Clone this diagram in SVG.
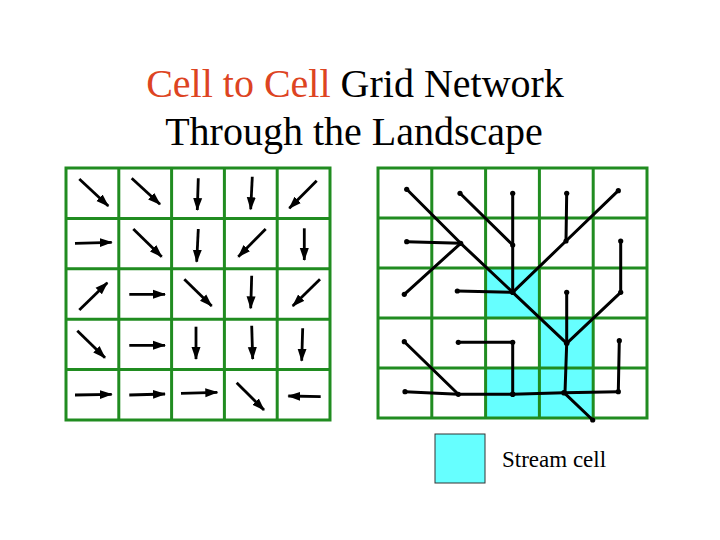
<svg xmlns="http://www.w3.org/2000/svg" width="720" height="540" viewBox="0 0 720 540">
<style>
.title{font-family:"Liberation Serif","Times New Roman",serif;font-size:40px;fill:#000}
.red{fill:#dd4422}
.grid{stroke:#208c20;stroke-width:3;fill:none;stroke-linecap:square}
.arrow{stroke:#000;stroke-width:2.8;fill:none;marker-end:url(#ah)}
.edge{stroke:#000;stroke-width:3;fill:none;stroke-linecap:round}
.dot{fill:#000}
.stream{fill:#66ffff}
.legend-text{font-family:"Liberation Serif","Times New Roman",serif;font-size:23px;fill:#000}
</style>
<defs>
<marker id="ah" markerWidth="14" markerHeight="10" refX="12" refY="5" orient="auto" markerUnits="userSpaceOnUse">
<path d="M0,0.5 L13,5 L0,9.5 z" fill="#000"/>
</marker>
</defs>
<rect width="720" height="540" fill="#fff"/>

<g id="title">
<text class="title" x="355" y="97" text-anchor="middle"><tspan class="red">Cell to Cell</tspan> Grid Network</text>
<text class="title" x="354" y="145" text-anchor="middle">Through the Landscape</text>
</g>

<g id="flow-direction-grid">
<rect x="66" y="168" width="264" height="252" fill="#fff"/>
<path class="grid" d="M66,168 V420 M118.8,168 V420 M171.6,168 V420 M224.4,168 V420 M277.2,168 V420 M330,168 V420 M66,168 H330 M66,218.4 H330 M66,268.8 H330 M66,319.2 H330 M66,369.6 H330 M66,420 H330"/>
<g id="flow-arrows">
<line class="arrow" x1="79.3" y1="179" x2="108.3" y2="206"/>
<line class="arrow" x1="131.7" y1="178.3" x2="160" y2="204.3"/>
<line class="arrow" x1="198.3" y1="178.3" x2="197.3" y2="210"/>
<line class="arrow" x1="252.3" y1="176.7" x2="250.7" y2="209.3"/>
<line class="arrow" x1="316.7" y1="180.7" x2="289.3" y2="208.3"/>

<line class="arrow" x1="75" y1="243.3" x2="111.7" y2="242.3"/>
<line class="arrow" x1="133.3" y1="229" x2="161.7" y2="256.7"/>
<line class="arrow" x1="198.3" y1="229" x2="196.7" y2="261.7"/>
<line class="arrow" x1="265.7" y1="229" x2="238.3" y2="256.7"/>
<line class="arrow" x1="304.3" y1="228.3" x2="304.3" y2="260"/>

<line class="arrow" x1="79.3" y1="310" x2="107.3" y2="282.7"/>
<line class="arrow" x1="129.3" y1="294.3" x2="165" y2="294.3"/>
<line class="arrow" x1="184.3" y1="279.3" x2="211.7" y2="306"/>
<line class="arrow" x1="251.7" y1="275.7" x2="250.7" y2="308.3"/>
<line class="arrow" x1="320" y1="279.3" x2="292.7" y2="306"/>

<line class="arrow" x1="77.3" y1="330.7" x2="105" y2="357.7"/>
<line class="arrow" x1="129.3" y1="345.3" x2="165" y2="345.3"/>
<line class="arrow" x1="196" y1="326.7" x2="196" y2="359"/>
<line class="arrow" x1="251.7" y1="325.7" x2="252.7" y2="359"/>
<line class="arrow" x1="302.7" y1="328.3" x2="301.7" y2="360.7"/>

<line class="arrow" x1="75" y1="395" x2="111.7" y2="394.3"/>
<line class="arrow" x1="129.3" y1="395" x2="165" y2="394"/>
<line class="arrow" x1="181" y1="393.3" x2="217.3" y2="392.3"/>
<line class="arrow" x1="236.7" y1="382.7" x2="264" y2="410"/>
<line class="arrow" x1="320.7" y1="396.7" x2="288.3" y2="396"/>
</g>
</g>

<g id="network-grid">
<rect x="378" y="168" width="269" height="250" fill="#fff"/>
<rect class="stream" x="485.6" y="268" width="53.8" height="50"/>
<rect class="stream" x="539.4" y="318" width="53.8" height="50"/>
<rect class="stream" x="485.6" y="368" width="53.8" height="50"/>
<rect class="stream" x="539.4" y="368" width="53.8" height="50"/>
<path class="grid" d="M378,168 V418 M431.8,168 V418 M485.6,168 V418 M539.4,168 V418 M593.2,168 V418 M647,168 V418 M378,168 H647 M378,218 H647 M378,268 H647 M378,318 H647 M378,368 H647 M378,418 H647"/>
</g>

<g id="connectors">
<line class="edge" x1="406.7" y1="189.3" x2="460.7" y2="243.3"/>
<line class="edge" x1="460.7" y1="243.3" x2="512.7" y2="292.3"/>
<line class="edge" x1="512.7" y1="292.3" x2="566.7" y2="343.3"/>
<line class="edge" x1="460" y1="193.3" x2="512.7" y2="245"/>
<line class="edge" x1="512.7" y1="193.3" x2="512.7" y2="245"/>
<line class="edge" x1="512.7" y1="245" x2="512.7" y2="292.3"/>
<line class="edge" x1="566.7" y1="193.3" x2="566" y2="241"/>
<line class="edge" x1="618.3" y1="190.7" x2="566" y2="241"/>
<line class="edge" x1="566" y1="241" x2="512.7" y2="292.3"/>
<line class="edge" x1="406.7" y1="241.7" x2="460.7" y2="243.3"/>
<line class="edge" x1="404.3" y1="294.3" x2="460.7" y2="243.3"/>
<line class="edge" x1="457.3" y1="291" x2="512.7" y2="292.3"/>
<line class="edge" x1="566.7" y1="292.3" x2="566.7" y2="343.3"/>
<line class="edge" x1="620.7" y1="241" x2="620.7" y2="292.3"/>
<line class="edge" x1="620.7" y1="292.3" x2="566.7" y2="343.3"/>
<line class="edge" x1="404.3" y1="341.7" x2="458.3" y2="394.3"/>
<line class="edge" x1="458.3" y1="342.3" x2="512.7" y2="342.3"/>
<line class="edge" x1="512.7" y1="342.3" x2="512.7" y2="394.3"/>
<line class="edge" x1="619.3" y1="340.7" x2="618.3" y2="391.7"/>
<line class="edge" x1="618.3" y1="391.7" x2="564" y2="392.7"/>
<line class="edge" x1="405" y1="391.7" x2="458.3" y2="394.3"/>
<line class="edge" x1="458.3" y1="394.3" x2="512.7" y2="394.3"/>
<line class="edge" x1="512.7" y1="394.3" x2="564" y2="392.7"/>
<line class="edge" x1="566.7" y1="343.3" x2="565" y2="392.7"/>
<line class="edge" x1="564" y1="392.7" x2="592.7" y2="420"/>
</g>

<g id="network-nodes">
<circle id="n-a" class="dot" cx="406.7" cy="189.3" r="2.6"/>
<circle id="n-b" class="dot" cx="460" cy="193.3" r="2.6"/>
<circle id="n-c" class="dot" cx="512.7" cy="193.3" r="2.6"/>
<circle id="n-d" class="dot" cx="566.7" cy="193.3" r="2.6"/>
<circle id="n-e" class="dot" cx="618.3" cy="190.7" r="2.6"/>
<circle id="n-f" class="dot" cx="406.7" cy="241.7" r="2.6"/>
<circle id="n-g" class="dot" cx="460.7" cy="243.3" r="2.6"/>
<circle id="n-h" class="dot" cx="512.7" cy="245" r="2.6"/>
<circle id="n-i" class="dot" cx="566" cy="241" r="2.6"/>
<circle id="n-j" class="dot" cx="620.7" cy="241" r="2.6"/>
<circle id="n-k" class="dot" cx="404.3" cy="294.3" r="2.6"/>
<circle id="n-l" class="dot" cx="457.3" cy="291" r="2.6"/>
<circle id="n-m" class="dot" cx="512.7" cy="292.3" r="2.8"/>
<circle id="n-n" class="dot" cx="566.7" cy="292.3" r="2.6"/>
<circle id="n-o" class="dot" cx="620.7" cy="292.3" r="2.6"/>
<circle id="n-p" class="dot" cx="404.3" cy="341.7" r="2.6"/>
<circle id="n-q" class="dot" cx="458.3" cy="342.3" r="2.6"/>
<circle id="n-r" class="dot" cx="512.7" cy="342.3" r="2.6"/>
<circle id="n-s" class="dot" cx="566.7" cy="343.3" r="2.8"/>
<circle id="n-t" class="dot" cx="619.3" cy="340.7" r="2.6"/>
<circle id="n-u" class="dot" cx="405" cy="391.7" r="2.6"/>
<circle id="n-v" class="dot" cx="458.3" cy="394.3" r="2.6"/>
<circle id="n-w" class="dot" cx="512.7" cy="394.3" r="2.8"/>
<circle id="n-x" class="dot" cx="564" cy="392.7" r="2.8"/>
<circle id="n-y" class="dot" cx="618.3" cy="391.7" r="2.6"/>
<circle id="n-outlet" class="dot" cx="592.7" cy="420" r="2.6"/>
</g>

<g id="legend">
<rect x="435" y="434" width="50" height="49" fill="#66ffff" stroke="#333" stroke-width="1"/>
<text class="legend-text" x="502" y="467">Stream cell</text>
</g>
</svg>
